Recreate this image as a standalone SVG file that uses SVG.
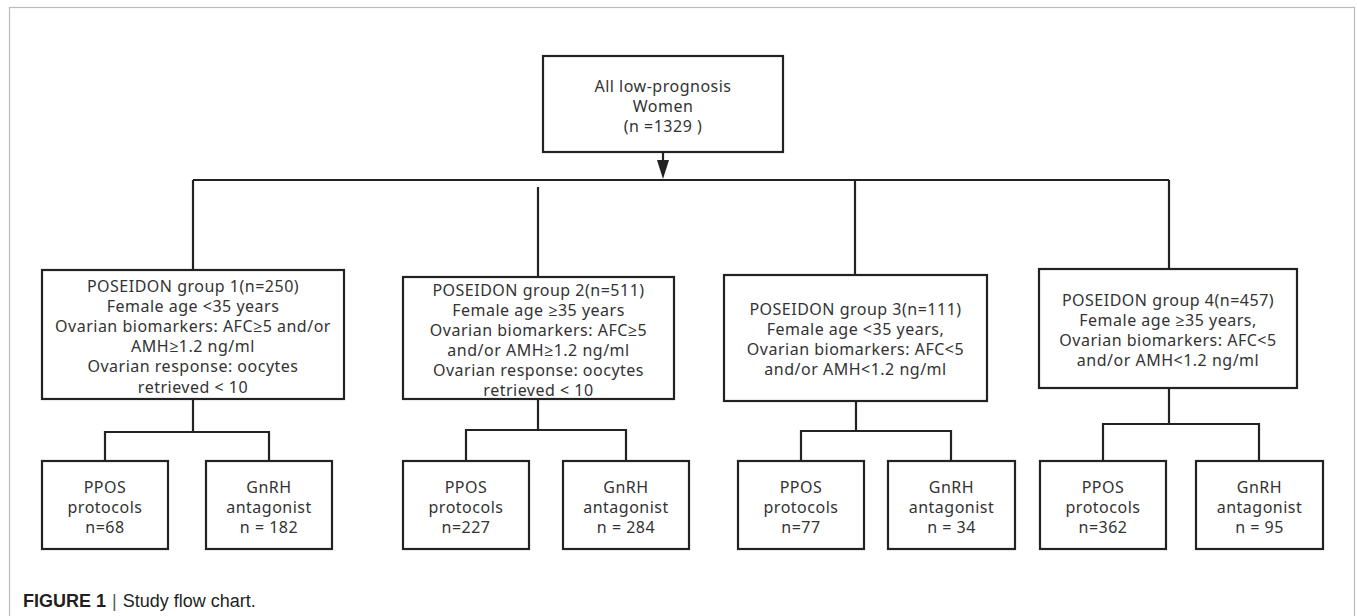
<svg xmlns="http://www.w3.org/2000/svg" width="1357" height="616" viewBox="0 0 1357 616">
<style>
.box{fill:#fff;stroke:#222;stroke-width:2.2}
.ln{fill:none;stroke:#222;stroke-width:2.2}
.t{font-family:"Noto Sans","Open Sans",sans-serif;font-size:16px;letter-spacing:0.5px;fill:#333;text-anchor:middle}
.cap{font-family:"Liberation Sans",Arial,sans-serif;font-size:18px;fill:#231f20}
</style>
<rect x="0" y="0" width="1357" height="616" fill="#fff"/>
<rect x="9.5" y="7.5" width="1345" height="640" fill="none" stroke="#bbb" stroke-width="1.2"/>

<g id="connectors">
<line class="ln" x1="663" y1="152" x2="663" y2="160"/>
<path d="M657,160 L669,160 L663,179 Z" fill="#222"/>
<path class="ln" d="M193,180 H1169"/>
<path class="ln" d="M193,180 V270"/>
<path class="ln" d="M538,187 V277"/>
<path class="ln" d="M855,180 V275"/>
<path class="ln" d="M1169,180 V269"/>
<path class="ln" d="M193,399 V432 M105,461 V432 H269 V461"/>
<path class="ln" d="M538,399 V430 M466,461 V430 H626 V461"/>
<path class="ln" d="M856,401 V431 M801,461 V431 H951 V461"/>
<path class="ln" d="M1169,388 V424 M1103,461 V424 H1259 V461"/>
</g>

<g id="root">
<rect class="box" x="543" y="56" width="240" height="96"/>
<text class="t" x="663" y="92">All low-prognosis</text>
<text class="t" x="663" y="112">Women</text>
<text class="t" x="663" y="132">(n =1329 )</text>
</g>

<g id="group1">
<rect class="box" x="42" y="270" width="302" height="129"/>
<text class="t" x="193" y="292">POSEIDON group 1(n=250)</text>
<text class="t" x="193" y="312">Female age &lt;35 years</text>
<text class="t" x="193" y="332">Ovarian biomarkers: AFC≥5 and/or</text>
<text class="t" x="193" y="352">AMH≥1.2 ng/ml</text>
<text class="t" x="193" y="372">Ovarian response: oocytes</text>
<text class="t" x="193" y="393">retrieved &lt; 10</text>
</g>

<g id="group2">
<rect class="box" x="403" y="277" width="271" height="122"/>
<text class="t" x="538.5" y="296">POSEIDON group 2(n=511)</text>
<text class="t" x="538.5" y="316">Female age ≥35 years</text>
<text class="t" x="538.5" y="336">Ovarian biomarkers: AFC≥5</text>
<text class="t" x="538.5" y="356">and/or AMH≥1.2 ng/ml</text>
<text class="t" x="538.5" y="376">Ovarian response: oocytes</text>
<text class="t" x="538.5" y="396">retrieved &lt; 10</text>
</g>

<g id="group3">
<rect class="box" x="724" y="275" width="263" height="126"/>
<text class="t" x="855.5" y="315">POSEIDON group 3(n=111)</text>
<text class="t" x="855.5" y="335">Female age &lt;35 years,</text>
<text class="t" x="855.5" y="355">Ovarian biomarkers: AFC&lt;5</text>
<text class="t" x="855.5" y="375">and/or AMH&lt;1.2 ng/ml</text>
</g>

<g id="group4">
<rect class="box" x="1039" y="269" width="258" height="119"/>
<text class="t" x="1168" y="306">POSEIDON group 4(n=457)</text>
<text class="t" x="1168" y="326">Female age ≥35 years,</text>
<text class="t" x="1168" y="346">Ovarian biomarkers: AFC&lt;5</text>
<text class="t" x="1168" y="366">and/or AMH&lt;1.2 ng/ml</text>
</g>

<g id="g1-ppos">
<rect class="box" x="42" y="461" width="126" height="88"/>
<text class="t" x="105" y="493">PPOS</text>
<text class="t" x="105" y="513">protocols</text>
<text class="t" x="105" y="533">n=68</text>
</g>
<g id="g1-gnrh">
<rect class="box" x="206" y="461" width="126" height="88"/>
<text class="t" x="269" y="493">GnRH</text>
<text class="t" x="269" y="513">antagonist</text>
<text class="t" x="269" y="533">n = 182</text>
</g>
<g id="g2-ppos">
<rect class="box" x="403" y="461" width="126" height="88"/>
<text class="t" x="466" y="493">PPOS</text>
<text class="t" x="466" y="513">protocols</text>
<text class="t" x="466" y="533">n=227</text>
</g>
<g id="g2-gnrh">
<rect class="box" x="563" y="461" width="126" height="88"/>
<text class="t" x="626" y="493">GnRH</text>
<text class="t" x="626" y="513">antagonist</text>
<text class="t" x="626" y="533">n = 284</text>
</g>
<g id="g3-ppos">
<rect class="box" x="738" y="461" width="126" height="88"/>
<text class="t" x="801" y="493">PPOS</text>
<text class="t" x="801" y="513">protocols</text>
<text class="t" x="801" y="533">n=77</text>
</g>
<g id="g3-gnrh">
<rect class="box" x="888" y="461" width="127" height="88"/>
<text class="t" x="951.5" y="493">GnRH</text>
<text class="t" x="951.5" y="513">antagonist</text>
<text class="t" x="951.5" y="533">n = 34</text>
</g>
<g id="g4-ppos">
<rect class="box" x="1040" y="461" width="126" height="88"/>
<text class="t" x="1103" y="493">PPOS</text>
<text class="t" x="1103" y="513">protocols</text>
<text class="t" x="1103" y="533">n=362</text>
</g>
<g id="g4-gnrh">
<rect class="box" x="1196" y="461" width="127" height="88"/>
<text class="t" x="1259.5" y="493">GnRH</text>
<text class="t" x="1259.5" y="513">antagonist</text>
<text class="t" x="1259.5" y="533">n = 95</text>
</g>

<g id="caption">
<text class="cap" x="23" y="607"><tspan font-weight="bold">FIGURE 1</tspan><tspan dx="6" fill="#555">|</tspan><tspan dx="6">Study flow chart.</tspan></text>
</g>
</svg>
